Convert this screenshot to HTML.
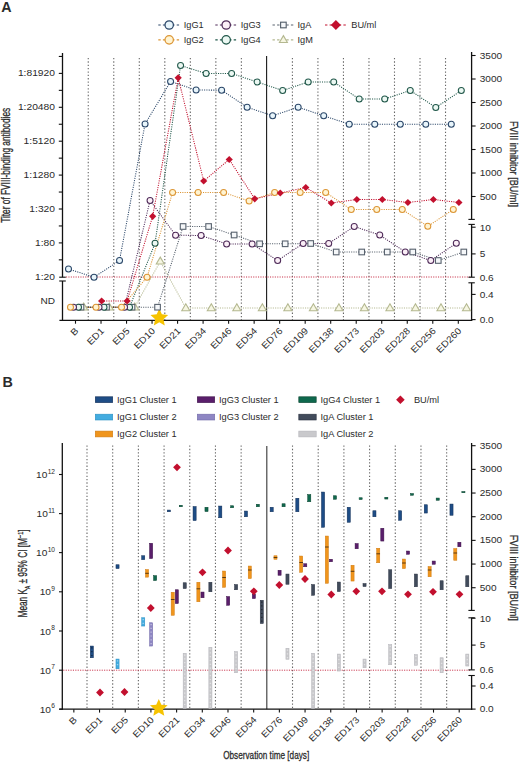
<!DOCTYPE html>
<html><head><meta charset="utf-8"><title>FVIII antibodies figure</title>
<style>
html,body{margin:0;padding:0;background:#fff;}
body{width:520px;height:762px;overflow:hidden;}
svg{display:block;}
text{font-family:"Liberation Sans", sans-serif;fill:#2b2b2b;}
</style></head>
<body>
<svg width="520" height="762" viewBox="0 0 520 762">
<rect width="520" height="762" fill="#fff"/>
<text x="1.30" y="12.00" font-size="14.3" font-weight="bold" fill="#000">A</text>
<line x1="158.30" y1="25.00" x2="179.90" y2="25.00" stroke="#2b4769" stroke-width="1.2" stroke-dasharray="2.4 2.2"/>
<circle cx="169.20" cy="25.00" r="4.2" fill="#e8f5fb" stroke="#2b4769" stroke-width="1.25"/>
<text x="183.80" y="28.30" font-size="9.2">IgG1</text>
<line x1="158.30" y1="39.80" x2="179.90" y2="39.80" stroke="#dc9636" stroke-width="1.2" stroke-dasharray="2.4 2.2"/>
<circle cx="169.20" cy="39.80" r="4.2" fill="#fff4d2" stroke="#dc9636" stroke-width="1.25"/>
<text x="183.80" y="43.10" font-size="9.2">IgG2</text>
<line x1="215.30" y1="25.00" x2="236.90" y2="25.00" stroke="#4e2a58" stroke-width="1.2" stroke-dasharray="2.4 2.2"/>
<circle cx="226.20" cy="25.00" r="4.2" fill="#fbeff7" stroke="#4e2a58" stroke-width="1.25"/>
<text x="240.80" y="28.30" font-size="9.2">IgG3</text>
<line x1="215.30" y1="39.80" x2="236.90" y2="39.80" stroke="#21584a" stroke-width="1.2" stroke-dasharray="2.4 2.2"/>
<circle cx="226.20" cy="39.80" r="4.2" fill="#ecf8f3" stroke="#21584a" stroke-width="1.25"/>
<text x="240.80" y="43.10" font-size="9.2">IgG4</text>
<line x1="272.50" y1="25.00" x2="294.10" y2="25.00" stroke="#58626e" stroke-width="1.2" stroke-dasharray="2.4 2.2"/>
<rect x="280.60" y="22.20" width="5.6" height="5.6" fill="#f5f7f9" stroke="#58626e" stroke-width="1.15"/>
<text x="297.50" y="28.30" font-size="9.2">IgA</text>
<line x1="272.50" y1="39.80" x2="294.10" y2="39.80" stroke="#b4b890" stroke-width="1.2" stroke-dasharray="2.4 2.2"/>
<polygon points="283.40,35.64 287.40,42.57 279.40,42.57" fill="#f6f6e2" stroke="#b4b890" stroke-width="1.1" stroke-linejoin="miter"/>
<text x="297.50" y="43.10" font-size="9.2">IgM</text>
<line x1="325.00" y1="25.00" x2="346.60" y2="25.00" stroke="#c2102e" stroke-width="1.2" stroke-dasharray="2.4 2.2"/>
<polygon points="335.90,20.00 340.90,25.00 335.90,30.00 330.90,25.00" fill="#c2102e"/>
<text x="351.30" y="28.30" font-size="9.2">BU/ml</text>
<line x1="88.25" y1="58.00" x2="88.25" y2="320.30" stroke="#666666" stroke-width="1.1" stroke-dasharray="1.3 2.05"/>
<line x1="113.77" y1="58.00" x2="113.77" y2="320.30" stroke="#666666" stroke-width="1.1" stroke-dasharray="1.3 2.05"/>
<line x1="139.29" y1="58.00" x2="139.29" y2="320.30" stroke="#666666" stroke-width="1.1" stroke-dasharray="1.3 2.05"/>
<line x1="164.81" y1="58.00" x2="164.81" y2="320.30" stroke="#666666" stroke-width="1.1" stroke-dasharray="1.3 2.05"/>
<line x1="190.33" y1="58.00" x2="190.33" y2="320.30" stroke="#666666" stroke-width="1.1" stroke-dasharray="1.3 2.05"/>
<line x1="215.85" y1="58.00" x2="215.85" y2="320.30" stroke="#666666" stroke-width="1.1" stroke-dasharray="1.3 2.05"/>
<line x1="241.37" y1="58.00" x2="241.37" y2="320.30" stroke="#666666" stroke-width="1.1" stroke-dasharray="1.3 2.05"/>
<line x1="292.41" y1="58.00" x2="292.41" y2="320.30" stroke="#666666" stroke-width="1.1" stroke-dasharray="1.3 2.05"/>
<line x1="317.93" y1="58.00" x2="317.93" y2="320.30" stroke="#666666" stroke-width="1.1" stroke-dasharray="1.3 2.05"/>
<line x1="343.45" y1="58.00" x2="343.45" y2="320.30" stroke="#666666" stroke-width="1.1" stroke-dasharray="1.3 2.05"/>
<line x1="368.97" y1="58.00" x2="368.97" y2="320.30" stroke="#666666" stroke-width="1.1" stroke-dasharray="1.3 2.05"/>
<line x1="394.49" y1="58.00" x2="394.49" y2="320.30" stroke="#666666" stroke-width="1.1" stroke-dasharray="1.3 2.05"/>
<line x1="420.01" y1="58.00" x2="420.01" y2="320.30" stroke="#666666" stroke-width="1.1" stroke-dasharray="1.3 2.05"/>
<line x1="445.53" y1="58.00" x2="445.53" y2="320.30" stroke="#666666" stroke-width="1.1" stroke-dasharray="1.3 2.05"/>
<line x1="266.60" y1="56.00" x2="266.60" y2="320.30" stroke="#1a1a1a" stroke-width="1.1"/>
<line x1="66.00" y1="277.00" x2="470.60" y2="277.00" stroke="#c8324a" stroke-width="1.0" stroke-dasharray="1.1 1.3"/>
<line x1="62.50" y1="53.00" x2="62.50" y2="277.20" stroke="#111" stroke-width="1.3"/>
<line x1="62.50" y1="281.00" x2="62.50" y2="320.90" stroke="#111" stroke-width="1.3"/>
<line x1="59.20" y1="277.20" x2="65.80" y2="277.20" stroke="#111" stroke-width="1.1"/>
<line x1="59.20" y1="281.00" x2="65.80" y2="281.00" stroke="#111" stroke-width="1.1"/>
<line x1="59.40" y1="320.30" x2="472.20" y2="320.30" stroke="#111" stroke-width="1.3"/>
<line x1="58.80" y1="259.85" x2="62.50" y2="259.85" stroke="#111" stroke-width="1.1"/>
<line x1="58.80" y1="242.90" x2="62.50" y2="242.90" stroke="#111" stroke-width="1.1"/>
<line x1="58.80" y1="225.95" x2="62.50" y2="225.95" stroke="#111" stroke-width="1.1"/>
<line x1="58.80" y1="209.00" x2="62.50" y2="209.00" stroke="#111" stroke-width="1.1"/>
<line x1="58.80" y1="192.05" x2="62.50" y2="192.05" stroke="#111" stroke-width="1.1"/>
<line x1="58.80" y1="175.10" x2="62.50" y2="175.10" stroke="#111" stroke-width="1.1"/>
<line x1="58.80" y1="158.15" x2="62.50" y2="158.15" stroke="#111" stroke-width="1.1"/>
<line x1="58.80" y1="141.20" x2="62.50" y2="141.20" stroke="#111" stroke-width="1.1"/>
<line x1="58.80" y1="124.25" x2="62.50" y2="124.25" stroke="#111" stroke-width="1.1"/>
<line x1="58.80" y1="107.30" x2="62.50" y2="107.30" stroke="#111" stroke-width="1.1"/>
<line x1="58.80" y1="90.35" x2="62.50" y2="90.35" stroke="#111" stroke-width="1.1"/>
<line x1="58.80" y1="73.40" x2="62.50" y2="73.40" stroke="#111" stroke-width="1.1"/>
<line x1="58.80" y1="56.45" x2="62.50" y2="56.45" stroke="#111" stroke-width="1.1"/>
<text x="55.00" y="279.60" font-size="9.5" text-anchor="end" textLength="19.97" lengthAdjust="spacingAndGlyphs">1:20</text>
<text x="55.00" y="245.70" font-size="9.5" text-anchor="end" textLength="19.97" lengthAdjust="spacingAndGlyphs">1:80</text>
<text x="55.00" y="211.80" font-size="9.5" text-anchor="end" textLength="25.67" lengthAdjust="spacingAndGlyphs">1:320</text>
<text x="55.00" y="177.90" font-size="9.5" text-anchor="end" textLength="31.38" lengthAdjust="spacingAndGlyphs">1:1280</text>
<text x="55.00" y="144.00" font-size="9.5" text-anchor="end" textLength="31.38" lengthAdjust="spacingAndGlyphs">1:5120</text>
<text x="55.00" y="110.10" font-size="9.5" text-anchor="end" textLength="37.08" lengthAdjust="spacingAndGlyphs">1:20480</text>
<text x="55.00" y="76.20" font-size="9.5" text-anchor="end" textLength="37.08" lengthAdjust="spacingAndGlyphs">1:81920</text>
<text x="55.00" y="304.10" font-size="9.5" text-anchor="end" textLength="14.54" lengthAdjust="spacingAndGlyphs">ND</text>
<line x1="471.60" y1="52.00" x2="471.60" y2="219.40" stroke="#111" stroke-width="1.3"/>
<line x1="471.60" y1="224.40" x2="471.60" y2="277.20" stroke="#111" stroke-width="1.3"/>
<line x1="471.60" y1="282.80" x2="471.60" y2="320.90" stroke="#111" stroke-width="1.3"/>
<line x1="468.40" y1="219.40" x2="474.80" y2="219.40" stroke="#111" stroke-width="1.1"/>
<line x1="468.40" y1="224.40" x2="474.80" y2="224.40" stroke="#111" stroke-width="1.1"/>
<line x1="468.40" y1="277.20" x2="474.80" y2="277.20" stroke="#111" stroke-width="1.1"/>
<line x1="468.40" y1="282.80" x2="474.80" y2="282.80" stroke="#111" stroke-width="1.1"/>
<line x1="471.60" y1="55.50" x2="475.60" y2="55.50" stroke="#111" stroke-width="1.1"/>
<text x="479.70" y="58.50" font-size="9.5" textLength="22.40" lengthAdjust="spacingAndGlyphs">3500</text>
<line x1="471.60" y1="79.00" x2="475.60" y2="79.00" stroke="#111" stroke-width="1.1"/>
<text x="479.70" y="82.00" font-size="9.5" textLength="22.40" lengthAdjust="spacingAndGlyphs">3000</text>
<line x1="471.60" y1="102.50" x2="475.60" y2="102.50" stroke="#111" stroke-width="1.1"/>
<text x="479.70" y="105.50" font-size="9.5" textLength="22.40" lengthAdjust="spacingAndGlyphs">2500</text>
<line x1="471.60" y1="126.00" x2="475.60" y2="126.00" stroke="#111" stroke-width="1.1"/>
<text x="479.70" y="129.00" font-size="9.5" textLength="22.40" lengthAdjust="spacingAndGlyphs">2000</text>
<line x1="471.60" y1="149.50" x2="475.60" y2="149.50" stroke="#111" stroke-width="1.1"/>
<text x="479.70" y="152.50" font-size="9.5" textLength="22.40" lengthAdjust="spacingAndGlyphs">1500</text>
<line x1="471.60" y1="173.00" x2="475.60" y2="173.00" stroke="#111" stroke-width="1.1"/>
<text x="479.70" y="176.00" font-size="9.5" textLength="22.40" lengthAdjust="spacingAndGlyphs">1000</text>
<line x1="471.60" y1="196.50" x2="475.60" y2="196.50" stroke="#111" stroke-width="1.1"/>
<text x="479.70" y="199.50" font-size="9.5" textLength="16.80" lengthAdjust="spacingAndGlyphs">500</text>
<line x1="471.60" y1="227.20" x2="475.60" y2="227.20" stroke="#111" stroke-width="1.1"/>
<text x="479.70" y="230.50" font-size="9.5" textLength="11.20" lengthAdjust="spacingAndGlyphs">10</text>
<line x1="471.60" y1="253.90" x2="475.60" y2="253.90" stroke="#111" stroke-width="1.1"/>
<text x="479.70" y="257.20" font-size="9.5" textLength="5.60" lengthAdjust="spacingAndGlyphs">5</text>
<line x1="471.60" y1="294.40" x2="475.60" y2="294.40" stroke="#111" stroke-width="1.1"/>
<text x="479.70" y="297.70" font-size="9.5" textLength="14.00" lengthAdjust="spacingAndGlyphs">0.4</text>
<line x1="471.60" y1="319.60" x2="475.60" y2="319.60" stroke="#111" stroke-width="1.1"/>
<text x="479.70" y="322.90" font-size="9.5" textLength="14.00" lengthAdjust="spacingAndGlyphs">0.0</text>
<text x="479.70" y="280.50" font-size="9.5" textLength="14.00" lengthAdjust="spacingAndGlyphs">0.6</text>
<text x="10.50" y="165.30" font-size="11.9" text-anchor="middle" textLength="115.00" lengthAdjust="spacingAndGlyphs" transform="rotate(-90 10.50 165.30)" stroke="#2b2b2b" stroke-width="0.3">Titer of FVIII-binding antibodies</text>
<text x="510.40" y="164.00" font-size="11.4" text-anchor="middle" textLength="86.00" lengthAdjust="spacingAndGlyphs" transform="rotate(90 510.40 164.00)" stroke="#2b2b2b" stroke-width="0.3">FVIII inhibitor  [BU/ml]</text>
<line x1="75.50" y1="320.30" x2="75.50" y2="323.70" stroke="#111" stroke-width="1.1"/>
<text x="79.10" y="331.50" font-size="9.2" text-anchor="end" textLength="6.75" lengthAdjust="spacingAndGlyphs" transform="rotate(-45 79.10 331.50)">B</text>
<line x1="101.02" y1="320.30" x2="101.02" y2="323.70" stroke="#111" stroke-width="1.1"/>
<text x="104.62" y="331.50" font-size="9.2" text-anchor="end" textLength="19.69" lengthAdjust="spacingAndGlyphs" transform="rotate(-45 104.62 331.50)">ED1</text>
<line x1="126.54" y1="320.30" x2="126.54" y2="323.70" stroke="#111" stroke-width="1.1"/>
<text x="130.14" y="331.50" font-size="9.2" text-anchor="end" textLength="19.69" lengthAdjust="spacingAndGlyphs" transform="rotate(-45 130.14 331.50)">ED5</text>
<line x1="152.06" y1="320.30" x2="152.06" y2="323.70" stroke="#111" stroke-width="1.1"/>
<text x="155.66" y="331.50" font-size="9.2" text-anchor="end" textLength="25.31" lengthAdjust="spacingAndGlyphs" transform="rotate(-45 155.66 331.50)">ED10</text>
<line x1="177.58" y1="320.30" x2="177.58" y2="323.70" stroke="#111" stroke-width="1.1"/>
<text x="181.18" y="331.50" font-size="9.2" text-anchor="end" textLength="25.31" lengthAdjust="spacingAndGlyphs" transform="rotate(-45 181.18 331.50)">ED21</text>
<line x1="203.10" y1="320.30" x2="203.10" y2="323.70" stroke="#111" stroke-width="1.1"/>
<text x="206.70" y="331.50" font-size="9.2" text-anchor="end" textLength="25.31" lengthAdjust="spacingAndGlyphs" transform="rotate(-45 206.70 331.50)">ED34</text>
<line x1="228.62" y1="320.30" x2="228.62" y2="323.70" stroke="#111" stroke-width="1.1"/>
<text x="232.22" y="331.50" font-size="9.2" text-anchor="end" textLength="25.31" lengthAdjust="spacingAndGlyphs" transform="rotate(-45 232.22 331.50)">ED46</text>
<line x1="254.14" y1="320.30" x2="254.14" y2="323.70" stroke="#111" stroke-width="1.1"/>
<text x="257.74" y="331.50" font-size="9.2" text-anchor="end" textLength="25.31" lengthAdjust="spacingAndGlyphs" transform="rotate(-45 257.74 331.50)">ED54</text>
<line x1="279.66" y1="320.30" x2="279.66" y2="323.70" stroke="#111" stroke-width="1.1"/>
<text x="283.26" y="331.50" font-size="9.2" text-anchor="end" textLength="25.31" lengthAdjust="spacingAndGlyphs" transform="rotate(-45 283.26 331.50)">ED76</text>
<line x1="305.18" y1="320.30" x2="305.18" y2="323.70" stroke="#111" stroke-width="1.1"/>
<text x="308.78" y="331.50" font-size="9.2" text-anchor="end" textLength="30.94" lengthAdjust="spacingAndGlyphs" transform="rotate(-45 308.78 331.50)">ED109</text>
<line x1="330.70" y1="320.30" x2="330.70" y2="323.70" stroke="#111" stroke-width="1.1"/>
<text x="334.30" y="331.50" font-size="9.2" text-anchor="end" textLength="30.94" lengthAdjust="spacingAndGlyphs" transform="rotate(-45 334.30 331.50)">ED138</text>
<line x1="356.22" y1="320.30" x2="356.22" y2="323.70" stroke="#111" stroke-width="1.1"/>
<text x="359.82" y="331.50" font-size="9.2" text-anchor="end" textLength="30.94" lengthAdjust="spacingAndGlyphs" transform="rotate(-45 359.82 331.50)">ED173</text>
<line x1="381.74" y1="320.30" x2="381.74" y2="323.70" stroke="#111" stroke-width="1.1"/>
<text x="385.34" y="331.50" font-size="9.2" text-anchor="end" textLength="30.94" lengthAdjust="spacingAndGlyphs" transform="rotate(-45 385.34 331.50)">ED203</text>
<line x1="407.26" y1="320.30" x2="407.26" y2="323.70" stroke="#111" stroke-width="1.1"/>
<text x="410.86" y="331.50" font-size="9.2" text-anchor="end" textLength="30.94" lengthAdjust="spacingAndGlyphs" transform="rotate(-45 410.86 331.50)">ED228</text>
<line x1="432.78" y1="320.30" x2="432.78" y2="323.70" stroke="#111" stroke-width="1.1"/>
<text x="436.38" y="331.50" font-size="9.2" text-anchor="end" textLength="30.94" lengthAdjust="spacingAndGlyphs" transform="rotate(-45 436.38 331.50)">ED256</text>
<line x1="458.30" y1="320.30" x2="458.30" y2="323.70" stroke="#111" stroke-width="1.1"/>
<text x="461.90" y="331.50" font-size="9.2" text-anchor="end" textLength="30.94" lengthAdjust="spacingAndGlyphs" transform="rotate(-45 461.90 331.50)">ED260</text>
<polyline points="83.70,307.20 109.22,307.20 134.74,307.20 160.26,261.30 185.78,308.00 211.30,308.00 236.82,308.00 262.34,308.00 287.86,308.00 313.38,308.00 338.90,308.00 364.42,308.00 389.94,308.00 415.46,308.00 440.98,308.00 466.50,308.00" fill="none" stroke="#b4b890" stroke-width="1.05" stroke-dasharray="1.1 1.2"/>
<polyline points="81.00,307.20 106.52,307.20 132.04,307.20 157.56,307.20 183.08,226.50 208.60,226.50 234.12,235.00 259.64,243.80 285.16,243.80 310.68,243.50 336.20,252.00 361.72,252.00 387.24,252.00 412.76,252.00 438.28,260.50 463.80,252.00" fill="none" stroke="#58626e" stroke-width="1.05" stroke-dasharray="1.1 1.2"/>
<polyline points="78.50,307.20 104.02,307.20 129.54,307.20 155.06,243.30 180.58,65.50 206.10,73.50 231.62,73.50 257.14,82.00 282.66,90.50 308.18,82.00 333.70,82.00 359.22,99.00 384.74,99.00 410.26,90.50 435.78,107.50 461.30,90.50" fill="none" stroke="#21584a" stroke-width="1.05" stroke-dasharray="1.1 1.2"/>
<polyline points="73.50,307.20 99.02,307.20 124.54,307.20 150.06,200.50 175.58,235.20 201.10,235.50 226.62,244.00 252.14,244.00 277.66,260.50 303.18,243.50 328.70,243.50 354.22,226.50 379.74,235.00 405.26,252.00 430.78,260.50 456.30,243.30" fill="none" stroke="#4e2a58" stroke-width="1.05" stroke-dasharray="1.1 1.2"/>
<polyline points="70.50,307.20 96.02,307.20 121.54,307.20 147.06,277.20 172.58,192.50 198.10,192.50 223.62,192.50 249.14,201.00 274.66,192.50 300.18,192.50 325.70,192.50 351.22,209.50 376.74,209.50 402.26,209.50 427.78,226.30 453.30,209.50" fill="none" stroke="#dc9636" stroke-width="1.05" stroke-dasharray="1.1 1.2"/>
<polyline points="68.50,269.00 94.02,277.20 119.54,260.50 145.06,124.00 170.58,81.50 196.10,90.00 221.62,90.20 247.14,107.20 272.66,115.80 298.18,107.20 323.70,115.80 349.22,124.20 374.74,124.20 400.26,124.20 425.78,124.20 451.30,124.20" fill="none" stroke="#2b4769" stroke-width="1.05" stroke-dasharray="1.1 1.2"/>
<polyline points="101.62,301.00 127.14,301.00 152.66,216.30 178.18,77.80 203.70,181.00 229.22,159.50 254.74,198.80 280.26,193.00 305.78,187.50 331.30,203.00 356.82,199.50 382.34,199.50 407.86,202.50 433.38,199.50 458.90,202.50" fill="none" stroke="#c2102e" stroke-width="1.05" stroke-dasharray="1.1 1.2"/>
<polygon points="159.30,308.60 161.87,314.36 168.14,315.03 163.46,319.25 164.77,325.42 159.30,322.27 153.83,325.42 155.14,319.25 150.46,315.03 156.73,314.36" fill="#F6C300"/>
<polygon points="83.70,303.04 87.70,309.97 79.70,309.97" fill="#f6f6e2" stroke="#b4b890" stroke-width="1.1" stroke-linejoin="miter"/>
<polygon points="109.22,303.04 113.22,309.97 105.22,309.97" fill="#f6f6e2" stroke="#b4b890" stroke-width="1.1" stroke-linejoin="miter"/>
<polygon points="134.74,303.04 138.74,309.97 130.74,309.97" fill="#f6f6e2" stroke="#b4b890" stroke-width="1.1" stroke-linejoin="miter"/>
<polygon points="160.26,257.14 164.26,264.07 156.26,264.07" fill="#f6f6e2" stroke="#b4b890" stroke-width="1.1" stroke-linejoin="miter"/>
<polygon points="185.78,303.84 189.78,310.77 181.78,310.77" fill="#f6f6e2" stroke="#b4b890" stroke-width="1.1" stroke-linejoin="miter"/>
<polygon points="211.30,303.84 215.30,310.77 207.30,310.77" fill="#f6f6e2" stroke="#b4b890" stroke-width="1.1" stroke-linejoin="miter"/>
<polygon points="236.82,303.84 240.82,310.77 232.82,310.77" fill="#f6f6e2" stroke="#b4b890" stroke-width="1.1" stroke-linejoin="miter"/>
<polygon points="262.34,303.84 266.34,310.77 258.34,310.77" fill="#f6f6e2" stroke="#b4b890" stroke-width="1.1" stroke-linejoin="miter"/>
<polygon points="287.86,303.84 291.86,310.77 283.86,310.77" fill="#f6f6e2" stroke="#b4b890" stroke-width="1.1" stroke-linejoin="miter"/>
<polygon points="313.38,303.84 317.38,310.77 309.38,310.77" fill="#f6f6e2" stroke="#b4b890" stroke-width="1.1" stroke-linejoin="miter"/>
<polygon points="338.90,303.84 342.90,310.77 334.90,310.77" fill="#f6f6e2" stroke="#b4b890" stroke-width="1.1" stroke-linejoin="miter"/>
<polygon points="364.42,303.84 368.42,310.77 360.42,310.77" fill="#f6f6e2" stroke="#b4b890" stroke-width="1.1" stroke-linejoin="miter"/>
<polygon points="389.94,303.84 393.94,310.77 385.94,310.77" fill="#f6f6e2" stroke="#b4b890" stroke-width="1.1" stroke-linejoin="miter"/>
<polygon points="415.46,303.84 419.46,310.77 411.46,310.77" fill="#f6f6e2" stroke="#b4b890" stroke-width="1.1" stroke-linejoin="miter"/>
<polygon points="440.98,303.84 444.98,310.77 436.98,310.77" fill="#f6f6e2" stroke="#b4b890" stroke-width="1.1" stroke-linejoin="miter"/>
<polygon points="466.50,303.84 470.50,310.77 462.50,310.77" fill="#f6f6e2" stroke="#b4b890" stroke-width="1.1" stroke-linejoin="miter"/>
<rect x="78.20" y="304.40" width="5.6" height="5.6" fill="#f5f7f9" stroke="#58626e" stroke-width="1.1"/>
<rect x="103.72" y="304.40" width="5.6" height="5.6" fill="#f5f7f9" stroke="#58626e" stroke-width="1.1"/>
<rect x="129.24" y="304.40" width="5.6" height="5.6" fill="#f5f7f9" stroke="#58626e" stroke-width="1.1"/>
<rect x="154.76" y="304.40" width="5.6" height="5.6" fill="#f5f7f9" stroke="#58626e" stroke-width="1.1"/>
<rect x="180.28" y="223.70" width="5.6" height="5.6" fill="#f5f7f9" stroke="#58626e" stroke-width="1.1"/>
<rect x="205.80" y="223.70" width="5.6" height="5.6" fill="#f5f7f9" stroke="#58626e" stroke-width="1.1"/>
<rect x="231.32" y="232.20" width="5.6" height="5.6" fill="#f5f7f9" stroke="#58626e" stroke-width="1.1"/>
<rect x="256.84" y="241.00" width="5.6" height="5.6" fill="#f5f7f9" stroke="#58626e" stroke-width="1.1"/>
<rect x="282.36" y="241.00" width="5.6" height="5.6" fill="#f5f7f9" stroke="#58626e" stroke-width="1.1"/>
<rect x="307.88" y="240.70" width="5.6" height="5.6" fill="#f5f7f9" stroke="#58626e" stroke-width="1.1"/>
<rect x="333.40" y="249.20" width="5.6" height="5.6" fill="#f5f7f9" stroke="#58626e" stroke-width="1.1"/>
<rect x="358.92" y="249.20" width="5.6" height="5.6" fill="#f5f7f9" stroke="#58626e" stroke-width="1.1"/>
<rect x="384.44" y="249.20" width="5.6" height="5.6" fill="#f5f7f9" stroke="#58626e" stroke-width="1.1"/>
<rect x="409.96" y="249.20" width="5.6" height="5.6" fill="#f5f7f9" stroke="#58626e" stroke-width="1.1"/>
<rect x="435.48" y="257.70" width="5.6" height="5.6" fill="#f5f7f9" stroke="#58626e" stroke-width="1.1"/>
<rect x="461.00" y="249.20" width="5.6" height="5.6" fill="#f5f7f9" stroke="#58626e" stroke-width="1.1"/>
<circle cx="78.50" cy="307.20" r="3.0" fill="#ecf8f3" stroke="#21584a" stroke-width="1.05"/>
<circle cx="104.02" cy="307.20" r="3.0" fill="#ecf8f3" stroke="#21584a" stroke-width="1.05"/>
<circle cx="129.54" cy="307.20" r="3.0" fill="#ecf8f3" stroke="#21584a" stroke-width="1.05"/>
<circle cx="155.06" cy="243.30" r="3.0" fill="#ecf8f3" stroke="#21584a" stroke-width="1.05"/>
<circle cx="180.58" cy="65.50" r="3.0" fill="#ecf8f3" stroke="#21584a" stroke-width="1.05"/>
<circle cx="206.10" cy="73.50" r="3.0" fill="#ecf8f3" stroke="#21584a" stroke-width="1.05"/>
<circle cx="231.62" cy="73.50" r="3.0" fill="#ecf8f3" stroke="#21584a" stroke-width="1.05"/>
<circle cx="257.14" cy="82.00" r="3.0" fill="#ecf8f3" stroke="#21584a" stroke-width="1.05"/>
<circle cx="282.66" cy="90.50" r="3.0" fill="#ecf8f3" stroke="#21584a" stroke-width="1.05"/>
<circle cx="308.18" cy="82.00" r="3.0" fill="#ecf8f3" stroke="#21584a" stroke-width="1.05"/>
<circle cx="333.70" cy="82.00" r="3.0" fill="#ecf8f3" stroke="#21584a" stroke-width="1.05"/>
<circle cx="359.22" cy="99.00" r="3.0" fill="#ecf8f3" stroke="#21584a" stroke-width="1.05"/>
<circle cx="384.74" cy="99.00" r="3.0" fill="#ecf8f3" stroke="#21584a" stroke-width="1.05"/>
<circle cx="410.26" cy="90.50" r="3.0" fill="#ecf8f3" stroke="#21584a" stroke-width="1.05"/>
<circle cx="435.78" cy="107.50" r="3.0" fill="#ecf8f3" stroke="#21584a" stroke-width="1.05"/>
<circle cx="461.30" cy="90.50" r="3.0" fill="#ecf8f3" stroke="#21584a" stroke-width="1.05"/>
<circle cx="73.50" cy="307.20" r="3.0" fill="#fbeff7" stroke="#4e2a58" stroke-width="1.05"/>
<circle cx="99.02" cy="307.20" r="3.0" fill="#fbeff7" stroke="#4e2a58" stroke-width="1.05"/>
<circle cx="124.54" cy="307.20" r="3.0" fill="#fbeff7" stroke="#4e2a58" stroke-width="1.05"/>
<circle cx="150.06" cy="200.50" r="3.0" fill="#fbeff7" stroke="#4e2a58" stroke-width="1.05"/>
<circle cx="175.58" cy="235.20" r="3.0" fill="#fbeff7" stroke="#4e2a58" stroke-width="1.05"/>
<circle cx="201.10" cy="235.50" r="3.0" fill="#fbeff7" stroke="#4e2a58" stroke-width="1.05"/>
<circle cx="226.62" cy="244.00" r="3.0" fill="#fbeff7" stroke="#4e2a58" stroke-width="1.05"/>
<circle cx="252.14" cy="244.00" r="3.0" fill="#fbeff7" stroke="#4e2a58" stroke-width="1.05"/>
<circle cx="277.66" cy="260.50" r="3.0" fill="#fbeff7" stroke="#4e2a58" stroke-width="1.05"/>
<circle cx="303.18" cy="243.50" r="3.0" fill="#fbeff7" stroke="#4e2a58" stroke-width="1.05"/>
<circle cx="328.70" cy="243.50" r="3.0" fill="#fbeff7" stroke="#4e2a58" stroke-width="1.05"/>
<circle cx="354.22" cy="226.50" r="3.0" fill="#fbeff7" stroke="#4e2a58" stroke-width="1.05"/>
<circle cx="379.74" cy="235.00" r="3.0" fill="#fbeff7" stroke="#4e2a58" stroke-width="1.05"/>
<circle cx="405.26" cy="252.00" r="3.0" fill="#fbeff7" stroke="#4e2a58" stroke-width="1.05"/>
<circle cx="430.78" cy="260.50" r="3.0" fill="#fbeff7" stroke="#4e2a58" stroke-width="1.05"/>
<circle cx="456.30" cy="243.30" r="3.0" fill="#fbeff7" stroke="#4e2a58" stroke-width="1.05"/>
<circle cx="70.50" cy="307.20" r="3.0" fill="#fff4d2" stroke="#dc9636" stroke-width="1.05"/>
<circle cx="96.02" cy="307.20" r="3.0" fill="#fff4d2" stroke="#dc9636" stroke-width="1.05"/>
<circle cx="121.54" cy="307.20" r="3.0" fill="#fff4d2" stroke="#dc9636" stroke-width="1.05"/>
<circle cx="147.06" cy="277.20" r="3.0" fill="#fff4d2" stroke="#dc9636" stroke-width="1.05"/>
<circle cx="172.58" cy="192.50" r="3.0" fill="#fff4d2" stroke="#dc9636" stroke-width="1.05"/>
<circle cx="198.10" cy="192.50" r="3.0" fill="#fff4d2" stroke="#dc9636" stroke-width="1.05"/>
<circle cx="223.62" cy="192.50" r="3.0" fill="#fff4d2" stroke="#dc9636" stroke-width="1.05"/>
<circle cx="249.14" cy="201.00" r="3.0" fill="#fff4d2" stroke="#dc9636" stroke-width="1.05"/>
<circle cx="274.66" cy="192.50" r="3.0" fill="#fff4d2" stroke="#dc9636" stroke-width="1.05"/>
<circle cx="300.18" cy="192.50" r="3.0" fill="#fff4d2" stroke="#dc9636" stroke-width="1.05"/>
<circle cx="325.70" cy="192.50" r="3.0" fill="#fff4d2" stroke="#dc9636" stroke-width="1.05"/>
<circle cx="351.22" cy="209.50" r="3.0" fill="#fff4d2" stroke="#dc9636" stroke-width="1.05"/>
<circle cx="376.74" cy="209.50" r="3.0" fill="#fff4d2" stroke="#dc9636" stroke-width="1.05"/>
<circle cx="402.26" cy="209.50" r="3.0" fill="#fff4d2" stroke="#dc9636" stroke-width="1.05"/>
<circle cx="427.78" cy="226.30" r="3.0" fill="#fff4d2" stroke="#dc9636" stroke-width="1.05"/>
<circle cx="453.30" cy="209.50" r="3.0" fill="#fff4d2" stroke="#dc9636" stroke-width="1.05"/>
<circle cx="68.50" cy="269.00" r="3.0" fill="#e8f5fb" stroke="#2b4769" stroke-width="1.05"/>
<circle cx="94.02" cy="277.20" r="3.0" fill="#e8f5fb" stroke="#2b4769" stroke-width="1.05"/>
<circle cx="119.54" cy="260.50" r="3.0" fill="#e8f5fb" stroke="#2b4769" stroke-width="1.05"/>
<circle cx="145.06" cy="124.00" r="3.0" fill="#e8f5fb" stroke="#2b4769" stroke-width="1.05"/>
<circle cx="170.58" cy="81.50" r="3.0" fill="#e8f5fb" stroke="#2b4769" stroke-width="1.05"/>
<circle cx="196.10" cy="90.00" r="3.0" fill="#e8f5fb" stroke="#2b4769" stroke-width="1.05"/>
<circle cx="221.62" cy="90.20" r="3.0" fill="#e8f5fb" stroke="#2b4769" stroke-width="1.05"/>
<circle cx="247.14" cy="107.20" r="3.0" fill="#e8f5fb" stroke="#2b4769" stroke-width="1.05"/>
<circle cx="272.66" cy="115.80" r="3.0" fill="#e8f5fb" stroke="#2b4769" stroke-width="1.05"/>
<circle cx="298.18" cy="107.20" r="3.0" fill="#e8f5fb" stroke="#2b4769" stroke-width="1.05"/>
<circle cx="323.70" cy="115.80" r="3.0" fill="#e8f5fb" stroke="#2b4769" stroke-width="1.05"/>
<circle cx="349.22" cy="124.20" r="3.0" fill="#e8f5fb" stroke="#2b4769" stroke-width="1.05"/>
<circle cx="374.74" cy="124.20" r="3.0" fill="#e8f5fb" stroke="#2b4769" stroke-width="1.05"/>
<circle cx="400.26" cy="124.20" r="3.0" fill="#e8f5fb" stroke="#2b4769" stroke-width="1.05"/>
<circle cx="425.78" cy="124.20" r="3.0" fill="#e8f5fb" stroke="#2b4769" stroke-width="1.05"/>
<circle cx="451.30" cy="124.20" r="3.0" fill="#e8f5fb" stroke="#2b4769" stroke-width="1.05"/>
<polygon points="101.62,297.40 105.22,301.00 101.62,304.60 98.02,301.00" fill="#c2102e"/>
<polygon points="127.14,297.40 130.74,301.00 127.14,304.60 123.54,301.00" fill="#c2102e"/>
<polygon points="152.66,212.70 156.26,216.30 152.66,219.90 149.06,216.30" fill="#c2102e"/>
<polygon points="178.18,74.20 181.78,77.80 178.18,81.40 174.58,77.80" fill="#c2102e"/>
<polygon points="203.70,177.40 207.30,181.00 203.70,184.60 200.10,181.00" fill="#c2102e"/>
<polygon points="229.22,155.90 232.82,159.50 229.22,163.10 225.62,159.50" fill="#c2102e"/>
<polygon points="254.74,195.20 258.34,198.80 254.74,202.40 251.14,198.80" fill="#c2102e"/>
<polygon points="280.26,189.40 283.86,193.00 280.26,196.60 276.66,193.00" fill="#c2102e"/>
<polygon points="305.78,183.90 309.38,187.50 305.78,191.10 302.18,187.50" fill="#c2102e"/>
<polygon points="331.30,199.40 334.90,203.00 331.30,206.60 327.70,203.00" fill="#c2102e"/>
<polygon points="356.82,195.90 360.42,199.50 356.82,203.10 353.22,199.50" fill="#c2102e"/>
<polygon points="382.34,195.90 385.94,199.50 382.34,203.10 378.74,199.50" fill="#c2102e"/>
<polygon points="407.86,198.90 411.46,202.50 407.86,206.10 404.26,202.50" fill="#c2102e"/>
<polygon points="433.38,195.90 436.98,199.50 433.38,203.10 429.78,199.50" fill="#c2102e"/>
<polygon points="458.90,198.90 462.50,202.50 458.90,206.10 455.30,202.50" fill="#c2102e"/>
<text x="2.40" y="387.00" font-size="14.3" font-weight="bold" fill="#000">B</text>
<rect x="95.30" y="396.80" width="17.4" height="5.8" fill="#1e4d86" stroke="#0f2c55" stroke-width="0.6"/>
<text x="117.00" y="402.90" font-size="9.25">IgG1 Cluster 1</text>
<rect x="95.30" y="414.20" width="17.4" height="5.8" fill="#43ace0" stroke="#2a8fc2" stroke-width="0.6"/>
<text x="117.00" y="420.30" font-size="9.25">IgG1 Cluster 2</text>
<rect x="95.30" y="431.10" width="17.4" height="5.8" fill="#f0951c" stroke="#cf7a10" stroke-width="0.6"/>
<text x="117.00" y="437.20" font-size="9.25">IgG2 Cluster 1</text>
<rect x="197.30" y="396.80" width="17.4" height="5.8" fill="#5a1e6b" stroke="#3c1049" stroke-width="0.6"/>
<text x="219.00" y="402.90" font-size="9.25">IgG3 Cluster 1</text>
<rect x="197.30" y="414.20" width="17.4" height="5.8" fill="#8e86c3" stroke="#7169a8" stroke-width="0.6"/>
<text x="219.00" y="420.30" font-size="9.25">IgG3 Cluster 2</text>
<rect x="298.80" y="396.80" width="17.4" height="5.8" fill="#0f684d" stroke="#08432f" stroke-width="0.6"/>
<text x="320.50" y="402.90" font-size="9.25">IgG4 Cluster 1</text>
<rect x="298.80" y="414.20" width="17.4" height="5.8" fill="#414b5b" stroke="#283040" stroke-width="0.6"/>
<text x="320.50" y="420.30" font-size="9.25">IgA Cluster 1</text>
<rect x="298.80" y="431.10" width="17.4" height="5.8" fill="#c9c9cc" stroke="#b4b4ba" stroke-width="0.6"/>
<text x="320.50" y="437.20" font-size="9.25">IgA Cluster 2</text>
<polygon points="400.40,395.50 404.70,399.80 400.40,404.10 396.10,399.80" fill="#c2102e"/>
<text x="413.90" y="403.10" font-size="9.25">BU/ml</text>
<line x1="87.00" y1="445.50" x2="87.00" y2="709.20" stroke="#666666" stroke-width="1.1" stroke-dasharray="1.3 2.05"/>
<line x1="112.69" y1="445.50" x2="112.69" y2="709.20" stroke="#666666" stroke-width="1.1" stroke-dasharray="1.3 2.05"/>
<line x1="138.38" y1="445.50" x2="138.38" y2="709.20" stroke="#666666" stroke-width="1.1" stroke-dasharray="1.3 2.05"/>
<line x1="164.07" y1="445.50" x2="164.07" y2="709.20" stroke="#666666" stroke-width="1.1" stroke-dasharray="1.3 2.05"/>
<line x1="189.76" y1="445.50" x2="189.76" y2="709.20" stroke="#666666" stroke-width="1.1" stroke-dasharray="1.3 2.05"/>
<line x1="215.45" y1="445.50" x2="215.45" y2="709.20" stroke="#666666" stroke-width="1.1" stroke-dasharray="1.3 2.05"/>
<line x1="241.14" y1="445.50" x2="241.14" y2="709.20" stroke="#666666" stroke-width="1.1" stroke-dasharray="1.3 2.05"/>
<line x1="292.52" y1="445.50" x2="292.52" y2="709.20" stroke="#666666" stroke-width="1.1" stroke-dasharray="1.3 2.05"/>
<line x1="318.21" y1="445.50" x2="318.21" y2="709.20" stroke="#666666" stroke-width="1.1" stroke-dasharray="1.3 2.05"/>
<line x1="343.90" y1="445.50" x2="343.90" y2="709.20" stroke="#666666" stroke-width="1.1" stroke-dasharray="1.3 2.05"/>
<line x1="369.59" y1="445.50" x2="369.59" y2="709.20" stroke="#666666" stroke-width="1.1" stroke-dasharray="1.3 2.05"/>
<line x1="395.28" y1="445.50" x2="395.28" y2="709.20" stroke="#666666" stroke-width="1.1" stroke-dasharray="1.3 2.05"/>
<line x1="420.97" y1="445.50" x2="420.97" y2="709.20" stroke="#666666" stroke-width="1.1" stroke-dasharray="1.3 2.05"/>
<line x1="446.66" y1="445.50" x2="446.66" y2="709.20" stroke="#666666" stroke-width="1.1" stroke-dasharray="1.3 2.05"/>
<line x1="266.83" y1="446.00" x2="266.83" y2="709.20" stroke="#222" stroke-width="1.0"/>
<line x1="63.30" y1="670.20" x2="470.60" y2="670.20" stroke="#c8324a" stroke-width="1.0" stroke-dasharray="1.1 1.3"/>
<line x1="62.30" y1="443.00" x2="62.30" y2="709.80" stroke="#111" stroke-width="1.3"/>
<line x1="59.40" y1="709.20" x2="472.20" y2="709.20" stroke="#111" stroke-width="1.3"/>
<line x1="59.00" y1="474.50" x2="62.30" y2="474.50" stroke="#111" stroke-width="1.1"/>
<text x="47.66" y="473.70" font-size="6.6">12</text>
<text x="47.36" y="478.10" font-size="9.4" text-anchor="end" textLength="11.29" lengthAdjust="spacingAndGlyphs">10</text>
<line x1="59.00" y1="513.60" x2="62.30" y2="513.60" stroke="#111" stroke-width="1.1"/>
<text x="48.15" y="512.80" font-size="6.6">11</text>
<text x="47.85" y="517.20" font-size="9.4" text-anchor="end" textLength="11.29" lengthAdjust="spacingAndGlyphs">10</text>
<line x1="59.00" y1="552.60" x2="62.30" y2="552.60" stroke="#111" stroke-width="1.1"/>
<text x="47.66" y="551.80" font-size="6.6">10</text>
<text x="47.36" y="556.20" font-size="9.4" text-anchor="end" textLength="11.29" lengthAdjust="spacingAndGlyphs">10</text>
<line x1="59.00" y1="591.80" x2="62.30" y2="591.80" stroke="#111" stroke-width="1.1"/>
<text x="51.33" y="591.00" font-size="6.6">9</text>
<text x="51.03" y="595.40" font-size="9.4" text-anchor="end" textLength="11.29" lengthAdjust="spacingAndGlyphs">10</text>
<line x1="59.00" y1="631.00" x2="62.30" y2="631.00" stroke="#111" stroke-width="1.1"/>
<text x="51.33" y="630.20" font-size="6.6">8</text>
<text x="51.03" y="634.60" font-size="9.4" text-anchor="end" textLength="11.29" lengthAdjust="spacingAndGlyphs">10</text>
<line x1="59.00" y1="670.20" x2="62.30" y2="670.20" stroke="#111" stroke-width="1.1"/>
<text x="51.33" y="669.40" font-size="6.6">7</text>
<text x="51.03" y="673.80" font-size="9.4" text-anchor="end" textLength="11.29" lengthAdjust="spacingAndGlyphs">10</text>
<line x1="59.00" y1="709.20" x2="62.30" y2="709.20" stroke="#111" stroke-width="1.1"/>
<text x="51.33" y="708.40" font-size="6.6">6</text>
<text x="51.03" y="712.80" font-size="9.4" text-anchor="end" textLength="11.29" lengthAdjust="spacingAndGlyphs">10</text>
<line x1="471.60" y1="443.00" x2="471.60" y2="610.40" stroke="#111" stroke-width="1.3"/>
<line x1="471.60" y1="617.80" x2="471.60" y2="669.90" stroke="#111" stroke-width="1.3"/>
<line x1="471.60" y1="675.50" x2="471.60" y2="709.80" stroke="#111" stroke-width="1.3"/>
<line x1="468.40" y1="610.40" x2="474.80" y2="610.40" stroke="#111" stroke-width="1.1"/>
<line x1="468.40" y1="617.80" x2="474.80" y2="617.80" stroke="#111" stroke-width="1.1"/>
<line x1="468.40" y1="669.90" x2="474.80" y2="669.90" stroke="#111" stroke-width="1.1"/>
<line x1="468.40" y1="675.50" x2="474.80" y2="675.50" stroke="#111" stroke-width="1.1"/>
<line x1="471.60" y1="445.70" x2="475.60" y2="445.70" stroke="#111" stroke-width="1.1"/>
<text x="479.70" y="448.70" font-size="9.5" textLength="22.40" lengthAdjust="spacingAndGlyphs">3500</text>
<line x1="471.60" y1="469.37" x2="475.60" y2="469.37" stroke="#111" stroke-width="1.1"/>
<text x="479.70" y="472.37" font-size="9.5" textLength="22.40" lengthAdjust="spacingAndGlyphs">3000</text>
<line x1="471.60" y1="493.04" x2="475.60" y2="493.04" stroke="#111" stroke-width="1.1"/>
<text x="479.70" y="496.04" font-size="9.5" textLength="22.40" lengthAdjust="spacingAndGlyphs">2500</text>
<line x1="471.60" y1="516.71" x2="475.60" y2="516.71" stroke="#111" stroke-width="1.1"/>
<text x="479.70" y="519.71" font-size="9.5" textLength="22.40" lengthAdjust="spacingAndGlyphs">2000</text>
<line x1="471.60" y1="540.38" x2="475.60" y2="540.38" stroke="#111" stroke-width="1.1"/>
<text x="479.70" y="543.38" font-size="9.5" textLength="22.40" lengthAdjust="spacingAndGlyphs">1500</text>
<line x1="471.60" y1="564.05" x2="475.60" y2="564.05" stroke="#111" stroke-width="1.1"/>
<text x="479.70" y="567.05" font-size="9.5" textLength="22.40" lengthAdjust="spacingAndGlyphs">1000</text>
<line x1="471.60" y1="587.72" x2="475.60" y2="587.72" stroke="#111" stroke-width="1.1"/>
<text x="479.70" y="590.72" font-size="9.5" textLength="16.80" lengthAdjust="spacingAndGlyphs">500</text>
<line x1="471.60" y1="618.20" x2="475.60" y2="618.20" stroke="#111" stroke-width="1.1"/>
<text x="479.70" y="621.50" font-size="9.5" textLength="11.20" lengthAdjust="spacingAndGlyphs">10</text>
<line x1="471.60" y1="645.10" x2="475.60" y2="645.10" stroke="#111" stroke-width="1.1"/>
<text x="479.70" y="648.40" font-size="9.5" textLength="5.60" lengthAdjust="spacingAndGlyphs">5</text>
<line x1="471.60" y1="686.00" x2="475.60" y2="686.00" stroke="#111" stroke-width="1.1"/>
<text x="479.70" y="689.30" font-size="9.5" textLength="14.00" lengthAdjust="spacingAndGlyphs">0.4</text>
<line x1="471.60" y1="709.10" x2="475.60" y2="709.10" stroke="#111" stroke-width="1.1"/>
<text x="479.70" y="712.40" font-size="9.5" textLength="14.00" lengthAdjust="spacingAndGlyphs">0.0</text>
<text x="479.70" y="673.20" font-size="9.5" textLength="14.00" lengthAdjust="spacingAndGlyphs">0.6</text>
<g transform="rotate(-90 27.4 573.5)">
<text x="27.4" y="573.5" font-size="12" text-anchor="middle" textLength="88" lengthAdjust="spacingAndGlyphs" stroke="#2b2b2b" stroke-width="0.3">Mean K<tspan font-size="7" dy="2.5">A</tspan><tspan dy="-2.5"> ± 95% CI [M</tspan><tspan font-size="8" dy="-4">−1</tspan><tspan dy="4">]</tspan></text>
</g>
<text x="510.40" y="577.80" font-size="11.4" text-anchor="middle" textLength="86.00" lengthAdjust="spacingAndGlyphs" transform="rotate(90 510.40 577.80)" stroke="#2b2b2b" stroke-width="0.3">FVIII inhibitor  [BU/ml]</text>
<text x="266.20" y="758.50" font-size="11.4" text-anchor="middle" textLength="86.00" lengthAdjust="spacingAndGlyphs" stroke="#2b2b2b" stroke-width="0.3">Observation time [days]</text>
<line x1="73.85" y1="709.20" x2="73.85" y2="712.60" stroke="#111" stroke-width="1.1"/>
<text x="77.45" y="720.40" font-size="9.2" text-anchor="end" textLength="6.75" lengthAdjust="spacingAndGlyphs" transform="rotate(-45 77.45 720.40)">B</text>
<line x1="99.54" y1="709.20" x2="99.54" y2="712.60" stroke="#111" stroke-width="1.1"/>
<text x="103.14" y="720.40" font-size="9.2" text-anchor="end" textLength="19.69" lengthAdjust="spacingAndGlyphs" transform="rotate(-45 103.14 720.40)">ED1</text>
<line x1="125.23" y1="709.20" x2="125.23" y2="712.60" stroke="#111" stroke-width="1.1"/>
<text x="128.83" y="720.40" font-size="9.2" text-anchor="end" textLength="19.69" lengthAdjust="spacingAndGlyphs" transform="rotate(-45 128.83 720.40)">ED5</text>
<line x1="150.92" y1="709.20" x2="150.92" y2="712.60" stroke="#111" stroke-width="1.1"/>
<text x="154.52" y="720.40" font-size="9.2" text-anchor="end" textLength="25.31" lengthAdjust="spacingAndGlyphs" transform="rotate(-45 154.52 720.40)">ED10</text>
<line x1="176.61" y1="709.20" x2="176.61" y2="712.60" stroke="#111" stroke-width="1.1"/>
<text x="180.21" y="720.40" font-size="9.2" text-anchor="end" textLength="25.31" lengthAdjust="spacingAndGlyphs" transform="rotate(-45 180.21 720.40)">ED21</text>
<line x1="202.30" y1="709.20" x2="202.30" y2="712.60" stroke="#111" stroke-width="1.1"/>
<text x="205.90" y="720.40" font-size="9.2" text-anchor="end" textLength="25.31" lengthAdjust="spacingAndGlyphs" transform="rotate(-45 205.90 720.40)">ED34</text>
<line x1="227.99" y1="709.20" x2="227.99" y2="712.60" stroke="#111" stroke-width="1.1"/>
<text x="231.59" y="720.40" font-size="9.2" text-anchor="end" textLength="25.31" lengthAdjust="spacingAndGlyphs" transform="rotate(-45 231.59 720.40)">ED46</text>
<line x1="253.68" y1="709.20" x2="253.68" y2="712.60" stroke="#111" stroke-width="1.1"/>
<text x="257.28" y="720.40" font-size="9.2" text-anchor="end" textLength="25.31" lengthAdjust="spacingAndGlyphs" transform="rotate(-45 257.28 720.40)">ED54</text>
<line x1="279.37" y1="709.20" x2="279.37" y2="712.60" stroke="#111" stroke-width="1.1"/>
<text x="282.97" y="720.40" font-size="9.2" text-anchor="end" textLength="25.31" lengthAdjust="spacingAndGlyphs" transform="rotate(-45 282.97 720.40)">ED76</text>
<line x1="305.06" y1="709.20" x2="305.06" y2="712.60" stroke="#111" stroke-width="1.1"/>
<text x="308.66" y="720.40" font-size="9.2" text-anchor="end" textLength="30.94" lengthAdjust="spacingAndGlyphs" transform="rotate(-45 308.66 720.40)">ED109</text>
<line x1="330.75" y1="709.20" x2="330.75" y2="712.60" stroke="#111" stroke-width="1.1"/>
<text x="334.35" y="720.40" font-size="9.2" text-anchor="end" textLength="30.94" lengthAdjust="spacingAndGlyphs" transform="rotate(-45 334.35 720.40)">ED138</text>
<line x1="356.44" y1="709.20" x2="356.44" y2="712.60" stroke="#111" stroke-width="1.1"/>
<text x="360.04" y="720.40" font-size="9.2" text-anchor="end" textLength="30.94" lengthAdjust="spacingAndGlyphs" transform="rotate(-45 360.04 720.40)">ED173</text>
<line x1="382.13" y1="709.20" x2="382.13" y2="712.60" stroke="#111" stroke-width="1.1"/>
<text x="385.73" y="720.40" font-size="9.2" text-anchor="end" textLength="30.94" lengthAdjust="spacingAndGlyphs" transform="rotate(-45 385.73 720.40)">ED203</text>
<line x1="407.82" y1="709.20" x2="407.82" y2="712.60" stroke="#111" stroke-width="1.1"/>
<text x="411.42" y="720.40" font-size="9.2" text-anchor="end" textLength="30.94" lengthAdjust="spacingAndGlyphs" transform="rotate(-45 411.42 720.40)">ED228</text>
<line x1="433.51" y1="709.20" x2="433.51" y2="712.60" stroke="#111" stroke-width="1.1"/>
<text x="437.11" y="720.40" font-size="9.2" text-anchor="end" textLength="30.94" lengthAdjust="spacingAndGlyphs" transform="rotate(-45 437.11 720.40)">ED256</text>
<line x1="459.20" y1="709.20" x2="459.20" y2="712.60" stroke="#111" stroke-width="1.1"/>
<text x="462.80" y="720.40" font-size="9.2" text-anchor="end" textLength="30.94" lengthAdjust="spacingAndGlyphs" transform="rotate(-45 462.80 720.40)">ED260</text>
<rect x="90.29" y="646.05" width="3.1" height="11.70" fill="#1e4d86" stroke="#0f2c55" stroke-width="0.5"/>
<line x1="91.84" y1="647.30" x2="91.84" y2="657.00" stroke="#000" stroke-opacity="0.45" stroke-width="1.4" stroke-dasharray="1.2 2.6"/>
<rect x="115.98" y="564.75" width="3.1" height="3.80" fill="#1e4d86" stroke="#0f2c55" stroke-width="0.5"/>
<rect x="115.98" y="659.05" width="3.1" height="9.70" fill="#43ace0" stroke="#2a8fc2" stroke-width="0.5"/>
<line x1="117.53" y1="660.30" x2="117.53" y2="668.00" stroke="#ffffff" stroke-opacity="0.45" stroke-width="1.4" stroke-dasharray="1.2 2.6"/>
<rect x="141.67" y="555.75" width="3.1" height="3.90" fill="#1e4d86" stroke="#0f2c55" stroke-width="0.5"/>
<rect x="141.67" y="617.75" width="3.1" height="8.30" fill="#43ace0" stroke="#2a8fc2" stroke-width="0.5"/>
<line x1="143.22" y1="619.00" x2="143.22" y2="625.30" stroke="#ffffff" stroke-opacity="0.45" stroke-width="1.4" stroke-dasharray="1.2 2.6"/>
<rect x="145.47" y="569.55" width="3.1" height="7.60" fill="#f0951c" stroke="#cf7a10" stroke-width="0.5"/>
<rect x="145.22" y="572.80" width="3.6" height="1" fill="#5a3a10"/>
<rect x="149.57" y="543.25" width="3.1" height="15.30" fill="#5a1e6b" stroke="#3c1049" stroke-width="0.5"/>
<rect x="149.57" y="622.75" width="3.1" height="23.30" fill="#8e86c3" stroke="#7169a8" stroke-width="0.5"/>
<line x1="151.12" y1="624.00" x2="151.12" y2="645.30" stroke="#ffffff" stroke-opacity="0.45" stroke-width="1.4" stroke-dasharray="1.2 2.6"/>
<rect x="153.57" y="575.65" width="3.1" height="4.90" fill="#0f684d" stroke="#08432f" stroke-width="0.5"/>
<rect x="167.36" y="510.05" width="3.1" height="1.70" fill="#1e4d86" stroke="#0f2c55" stroke-width="0.5"/>
<rect x="179.26" y="505.25" width="3.1" height="1.50" fill="#0f684d" stroke="#08432f" stroke-width="0.5"/>
<rect x="171.16" y="592.25" width="3.1" height="23.00" fill="#f0951c" stroke="#cf7a10" stroke-width="0.5"/>
<rect x="170.91" y="599.00" width="3.6" height="1" fill="#5a3a10"/>
<rect x="175.26" y="589.75" width="3.1" height="13.80" fill="#5a1e6b" stroke="#3c1049" stroke-width="0.5"/>
<rect x="183.16" y="582.75" width="3.1" height="5.80" fill="#414b5b" stroke="#283040" stroke-width="0.5"/>
<rect x="183.16" y="653.25" width="3.1" height="55.30" fill="#c9c9cc" stroke="#b4b4ba" stroke-width="0.5"/>
<line x1="184.71" y1="654.50" x2="184.71" y2="707.80" stroke="#ffffff" stroke-opacity="0.45" stroke-width="1.4" stroke-dasharray="1.2 2.6"/>
<rect x="193.05" y="506.55" width="3.1" height="14.00" fill="#1e4d86" stroke="#0f2c55" stroke-width="0.5"/>
<rect x="204.95" y="507.25" width="3.1" height="4.30" fill="#0f684d" stroke="#08432f" stroke-width="0.5"/>
<rect x="196.85" y="582.25" width="3.1" height="19.50" fill="#f0951c" stroke="#cf7a10" stroke-width="0.5"/>
<rect x="196.60" y="588.30" width="3.6" height="1" fill="#5a3a10"/>
<rect x="200.95" y="592.05" width="3.1" height="5.70" fill="#5a1e6b" stroke="#3c1049" stroke-width="0.5"/>
<rect x="208.85" y="582.25" width="3.1" height="9.50" fill="#414b5b" stroke="#283040" stroke-width="0.5"/>
<rect x="208.85" y="647.25" width="3.1" height="61.30" fill="#c9c9cc" stroke="#b4b4ba" stroke-width="0.5"/>
<line x1="210.40" y1="648.50" x2="210.40" y2="707.80" stroke="#ffffff" stroke-opacity="0.45" stroke-width="1.4" stroke-dasharray="1.2 2.6"/>
<rect x="218.74" y="506.05" width="3.1" height="11.70" fill="#1e4d86" stroke="#0f2c55" stroke-width="0.5"/>
<rect x="230.64" y="505.75" width="3.1" height="2.00" fill="#0f684d" stroke="#08432f" stroke-width="0.5"/>
<rect x="222.54" y="571.05" width="3.1" height="16.20" fill="#f0951c" stroke="#cf7a10" stroke-width="0.5"/>
<rect x="222.29" y="577.00" width="3.6" height="1" fill="#5a3a10"/>
<rect x="226.64" y="596.55" width="3.1" height="8.70" fill="#5a1e6b" stroke="#3c1049" stroke-width="0.5"/>
<rect x="234.54" y="584.55" width="3.1" height="5.20" fill="#414b5b" stroke="#283040" stroke-width="0.5"/>
<rect x="234.54" y="651.55" width="3.1" height="21.20" fill="#c9c9cc" stroke="#b4b4ba" stroke-width="0.5"/>
<line x1="236.09" y1="652.80" x2="236.09" y2="672.00" stroke="#ffffff" stroke-opacity="0.45" stroke-width="1.4" stroke-dasharray="1.2 2.6"/>
<rect x="244.43" y="511.05" width="3.1" height="5.70" fill="#1e4d86" stroke="#0f2c55" stroke-width="0.5"/>
<rect x="256.33" y="504.25" width="3.1" height="2.50" fill="#0f684d" stroke="#08432f" stroke-width="0.5"/>
<rect x="248.23" y="566.05" width="3.1" height="12.50" fill="#f0951c" stroke="#cf7a10" stroke-width="0.5"/>
<rect x="247.98" y="569.50" width="3.6" height="1" fill="#5a3a10"/>
<rect x="252.33" y="594.05" width="3.1" height="4.50" fill="#5a1e6b" stroke="#3c1049" stroke-width="0.5"/>
<rect x="260.23" y="600.25" width="3.1" height="23.30" fill="#414b5b" stroke="#283040" stroke-width="0.5"/>
<line x1="261.78" y1="601.50" x2="261.78" y2="622.80" stroke="#000" stroke-opacity="0.45" stroke-width="1.4" stroke-dasharray="1.2 2.6"/>
<rect x="270.12" y="507.25" width="3.1" height="4.50" fill="#1e4d86" stroke="#0f2c55" stroke-width="0.5"/>
<rect x="282.02" y="503.75" width="3.1" height="3.00" fill="#0f684d" stroke="#08432f" stroke-width="0.5"/>
<rect x="273.92" y="555.75" width="3.1" height="3.50" fill="#f0951c" stroke="#cf7a10" stroke-width="0.5"/>
<rect x="273.67" y="557.00" width="3.6" height="1" fill="#5a3a10"/>
<rect x="278.02" y="570.25" width="3.1" height="5.00" fill="#5a1e6b" stroke="#3c1049" stroke-width="0.5"/>
<rect x="285.92" y="574.05" width="3.1" height="10.20" fill="#414b5b" stroke="#283040" stroke-width="0.5"/>
<rect x="285.92" y="648.25" width="3.1" height="11.00" fill="#c9c9cc" stroke="#b4b4ba" stroke-width="0.5"/>
<line x1="287.47" y1="649.50" x2="287.47" y2="658.50" stroke="#ffffff" stroke-opacity="0.45" stroke-width="1.4" stroke-dasharray="1.2 2.6"/>
<rect x="295.81" y="498.25" width="3.1" height="13.50" fill="#1e4d86" stroke="#0f2c55" stroke-width="0.5"/>
<rect x="307.71" y="494.55" width="3.1" height="7.20" fill="#0f684d" stroke="#08432f" stroke-width="0.5"/>
<rect x="299.61" y="556.05" width="3.1" height="16.20" fill="#f0951c" stroke="#cf7a10" stroke-width="0.5"/>
<rect x="299.36" y="562.00" width="3.6" height="1" fill="#5a3a10"/>
<rect x="303.71" y="563.75" width="3.1" height="3.00" fill="#5a1e6b" stroke="#3c1049" stroke-width="0.5"/>
<rect x="311.61" y="584.55" width="3.1" height="10.70" fill="#414b5b" stroke="#283040" stroke-width="0.5"/>
<rect x="311.61" y="653.25" width="3.1" height="55.30" fill="#c9c9cc" stroke="#b4b4ba" stroke-width="0.5"/>
<line x1="313.16" y1="654.50" x2="313.16" y2="707.80" stroke="#ffffff" stroke-opacity="0.45" stroke-width="1.4" stroke-dasharray="1.2 2.6"/>
<rect x="321.50" y="492.05" width="3.1" height="35.20" fill="#1e4d86" stroke="#0f2c55" stroke-width="0.5"/>
<rect x="333.40" y="495.75" width="3.1" height="3.50" fill="#0f684d" stroke="#08432f" stroke-width="0.5"/>
<rect x="325.30" y="536.05" width="3.1" height="47.20" fill="#f0951c" stroke="#cf7a10" stroke-width="0.5"/>
<rect x="325.05" y="546.50" width="3.6" height="1" fill="#5a3a10"/>
<rect x="329.40" y="559.25" width="3.1" height="2.50" fill="#5a1e6b" stroke="#3c1049" stroke-width="0.5"/>
<rect x="337.30" y="582.05" width="3.1" height="9.50" fill="#414b5b" stroke="#283040" stroke-width="0.5"/>
<rect x="337.30" y="654.05" width="3.1" height="17.00" fill="#c9c9cc" stroke="#b4b4ba" stroke-width="0.5"/>
<line x1="338.85" y1="655.30" x2="338.85" y2="670.30" stroke="#ffffff" stroke-opacity="0.45" stroke-width="1.4" stroke-dasharray="1.2 2.6"/>
<rect x="347.19" y="507.25" width="3.1" height="15.00" fill="#1e4d86" stroke="#0f2c55" stroke-width="0.5"/>
<rect x="359.09" y="497.75" width="3.1" height="1.80" fill="#0f684d" stroke="#08432f" stroke-width="0.5"/>
<rect x="355.09" y="543.55" width="3.1" height="5.20" fill="#5a1e6b" stroke="#3c1049" stroke-width="0.5"/>
<rect x="350.99" y="565.25" width="3.1" height="15.80" fill="#f0951c" stroke="#cf7a10" stroke-width="0.5"/>
<rect x="350.74" y="570.80" width="3.6" height="1" fill="#5a3a10"/>
<rect x="362.99" y="583.55" width="3.1" height="3.00" fill="#414b5b" stroke="#283040" stroke-width="0.5"/>
<rect x="362.99" y="659.05" width="3.1" height="8.70" fill="#c9c9cc" stroke="#b4b4ba" stroke-width="0.5"/>
<line x1="364.54" y1="660.30" x2="364.54" y2="667.00" stroke="#ffffff" stroke-opacity="0.45" stroke-width="1.4" stroke-dasharray="1.2 2.6"/>
<rect x="372.88" y="510.75" width="3.1" height="6.00" fill="#1e4d86" stroke="#0f2c55" stroke-width="0.5"/>
<rect x="384.78" y="497.25" width="3.1" height="1.80" fill="#0f684d" stroke="#08432f" stroke-width="0.5"/>
<rect x="380.78" y="528.25" width="3.1" height="12.80" fill="#5a1e6b" stroke="#3c1049" stroke-width="0.5"/>
<rect x="376.68" y="548.25" width="3.1" height="14.50" fill="#f0951c" stroke="#cf7a10" stroke-width="0.5"/>
<rect x="376.43" y="553.30" width="3.6" height="1" fill="#5a3a10"/>
<rect x="388.68" y="569.75" width="3.1" height="18.80" fill="#414b5b" stroke="#283040" stroke-width="0.5"/>
<rect x="388.68" y="644.55" width="3.1" height="20.20" fill="#c9c9cc" stroke="#b4b4ba" stroke-width="0.5"/>
<line x1="390.23" y1="645.80" x2="390.23" y2="664.00" stroke="#ffffff" stroke-opacity="0.45" stroke-width="1.4" stroke-dasharray="1.2 2.6"/>
<rect x="398.57" y="510.75" width="3.1" height="9.50" fill="#1e4d86" stroke="#0f2c55" stroke-width="0.5"/>
<rect x="410.47" y="493.55" width="3.1" height="1.70" fill="#0f684d" stroke="#08432f" stroke-width="0.5"/>
<rect x="406.47" y="551.05" width="3.1" height="3.20" fill="#5a1e6b" stroke="#3c1049" stroke-width="0.5"/>
<rect x="402.37" y="559.05" width="3.1" height="9.50" fill="#f0951c" stroke="#cf7a10" stroke-width="0.5"/>
<rect x="402.12" y="562.50" width="3.6" height="1" fill="#5a3a10"/>
<rect x="414.37" y="574.05" width="3.1" height="12.70" fill="#414b5b" stroke="#283040" stroke-width="0.5"/>
<rect x="414.37" y="654.55" width="3.1" height="10.70" fill="#c9c9cc" stroke="#b4b4ba" stroke-width="0.5"/>
<line x1="415.92" y1="655.80" x2="415.92" y2="664.50" stroke="#ffffff" stroke-opacity="0.45" stroke-width="1.4" stroke-dasharray="1.2 2.6"/>
<rect x="424.26" y="504.75" width="3.1" height="8.30" fill="#1e4d86" stroke="#0f2c55" stroke-width="0.5"/>
<rect x="436.16" y="498.05" width="3.1" height="2.20" fill="#0f684d" stroke="#08432f" stroke-width="0.5"/>
<rect x="432.16" y="561.05" width="3.1" height="3.20" fill="#5a1e6b" stroke="#3c1049" stroke-width="0.5"/>
<rect x="428.06" y="566.55" width="3.1" height="10.20" fill="#f0951c" stroke="#cf7a10" stroke-width="0.5"/>
<rect x="427.81" y="569.50" width="3.6" height="1" fill="#5a3a10"/>
<rect x="440.06" y="580.75" width="3.1" height="9.00" fill="#414b5b" stroke="#283040" stroke-width="0.5"/>
<rect x="440.06" y="657.75" width="3.1" height="15.00" fill="#c9c9cc" stroke="#b4b4ba" stroke-width="0.5"/>
<line x1="441.61" y1="659.00" x2="441.61" y2="672.00" stroke="#ffffff" stroke-opacity="0.45" stroke-width="1.4" stroke-dasharray="1.2 2.6"/>
<rect x="449.95" y="504.05" width="3.1" height="11.20" fill="#1e4d86" stroke="#0f2c55" stroke-width="0.5"/>
<rect x="461.85" y="491.55" width="3.1" height="1.20" fill="#0f684d" stroke="#08432f" stroke-width="0.5"/>
<rect x="457.85" y="542.25" width="3.1" height="4.50" fill="#5a1e6b" stroke="#3c1049" stroke-width="0.5"/>
<rect x="453.75" y="548.55" width="3.1" height="11.70" fill="#f0951c" stroke="#cf7a10" stroke-width="0.5"/>
<rect x="453.50" y="552.50" width="3.6" height="1" fill="#5a3a10"/>
<rect x="465.75" y="575.75" width="3.1" height="11.00" fill="#414b5b" stroke="#283040" stroke-width="0.5"/>
<rect x="465.75" y="654.05" width="3.1" height="12.00" fill="#c9c9cc" stroke="#b4b4ba" stroke-width="0.5"/>
<line x1="467.30" y1="655.30" x2="467.30" y2="665.30" stroke="#ffffff" stroke-opacity="0.45" stroke-width="1.4" stroke-dasharray="1.2 2.6"/>
<polygon points="100.00,688.60 103.90,692.50 100.00,696.40 96.10,692.50" fill="#c2102e"/>
<polygon points="124.50,688.10 128.40,692.00 124.50,695.90 120.60,692.00" fill="#c2102e"/>
<polygon points="150.80,604.10 154.70,608.00 150.80,611.90 146.90,608.00" fill="#c2102e"/>
<polygon points="177.00,463.40 180.90,467.30 177.00,471.20 173.10,467.30" fill="#c2102e"/>
<polygon points="202.50,568.40 206.40,572.30 202.50,576.20 198.60,572.30" fill="#c2102e"/>
<polygon points="228.00,546.60 231.90,550.50 228.00,554.40 224.10,550.50" fill="#c2102e"/>
<polygon points="253.80,587.40 257.70,591.30 253.80,595.20 249.90,591.30" fill="#c2102e"/>
<polygon points="279.30,581.10 283.20,585.00 279.30,588.90 275.40,585.00" fill="#c2102e"/>
<polygon points="305.00,575.10 308.90,579.00 305.00,582.90 301.10,579.00" fill="#c2102e"/>
<polygon points="331.30,590.60 335.20,594.50 331.30,598.40 327.40,594.50" fill="#c2102e"/>
<polygon points="356.30,587.40 360.20,591.30 356.30,595.20 352.40,591.30" fill="#c2102e"/>
<polygon points="382.00,587.40 385.90,591.30 382.00,595.20 378.10,591.30" fill="#c2102e"/>
<polygon points="408.00,590.40 411.90,594.30 408.00,598.20 404.10,594.30" fill="#c2102e"/>
<polygon points="433.00,587.90 436.90,591.80 433.00,595.70 429.10,591.80" fill="#c2102e"/>
<polygon points="459.50,590.40 463.40,594.30 459.50,598.20 455.60,594.30" fill="#c2102e"/>
<polygon points="158.80,698.90 161.37,704.66 167.64,705.33 162.96,709.55 164.27,715.72 158.80,712.57 153.33,715.72 154.64,709.55 149.96,705.33 156.23,704.66" fill="#F6C300"/>
</svg>
</body></html>
